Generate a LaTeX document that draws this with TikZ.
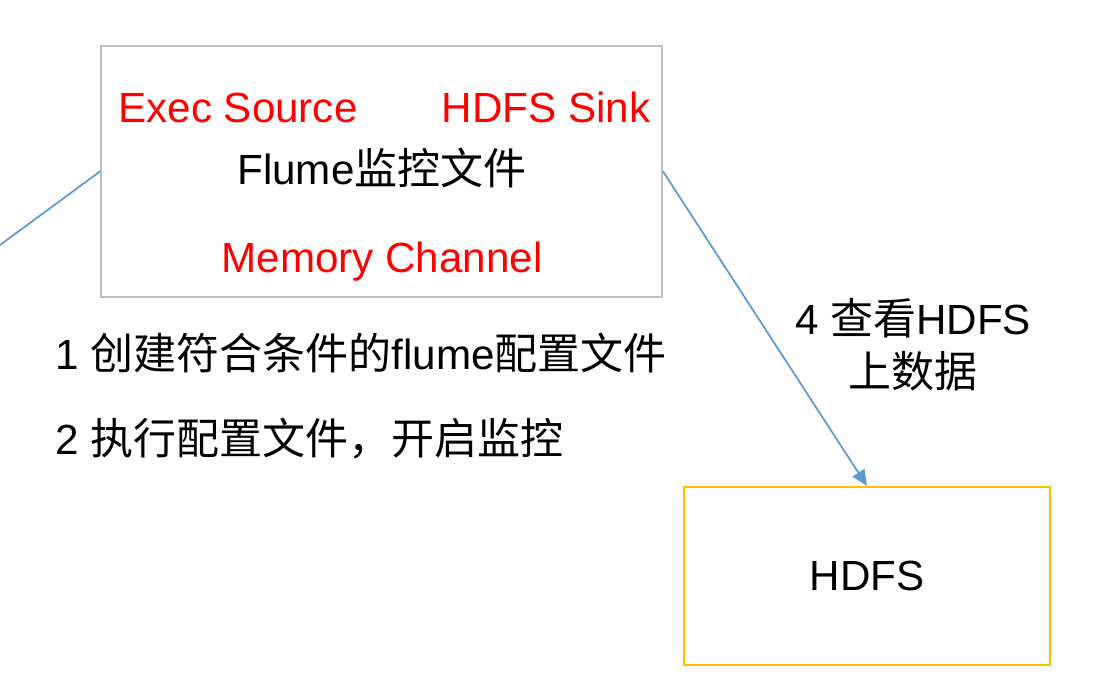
\documentclass[tikz,border=0pt]{standalone}
\usepackage{fontspec}
\setmainfont{Liberation Sans}
\newfontfamily\cjk[Scale=1.02]{Noto Sans CJK SC}
\usepackage{tikz}
\usetikzlibrary{arrows.meta}

\definecolor{boxgray}{HTML}{BFBFBF}
\definecolor{linkblue}{HTML}{5B9BD5}
\definecolor{hdfsyellow}{HTML}{FFC000}

\tikzset{
    txt/.style={font=\fontsize{24}{30}\selectfont, inner sep=0pt},
    redtxt/.style={txt, text=red},
    link/.style={draw=linkblue, line width=1pt}
}

\begin{document}
\begin{tikzpicture}
    \useasboundingbox (0,0) rectangle (22.12,13.84);
    % boxes
    \node[draw=boxgray, line width=1.2pt, minimum width=11.22cm, minimum height=5.02cm] (flume) at (7.63,10.41) {};
    \node[draw=hdfsyellow, line width=1.2pt, minimum width=7.32cm, minimum height=3.56cm, txt] (hdfs) at (17.34,2.32) {HDFS};
    % texts inside the flume box
    \node[redtxt, anchor=base] (src) at (4.76,11.38) {Exec Source};
    \node[redtxt, anchor=base] (sink) at (10.92,11.38) {HDFS Sink};
    \node[txt, anchor=base] (title) at (7.64,10.14) {Flume{\cjk 监控文件}};
    \node[redtxt, anchor=base] (chan) at (7.64,8.38) {Memory Channel};
    % steps
    \node[txt, anchor=base west] (step1) at (1.1,6.44) {1 {\cjk 创建符合条件的}flume{\cjk 配置文件}};
    \node[txt, anchor=base west] (step2) at (1.1,4.74) {2 {\cjk 执行配置文件，开启监控}};
    \node[txt, align=center] (step4) at (18.26,6.94) {4 {\cjk 查看}HDFS\\{\cjk 上数据}};
    % connectors
    \coordinate (incoming) at (0,8.94);
    \draw[link] (incoming) -- (flume.west);
    \draw[link, -{Triangle[length=9pt, width=8pt]}] (flume.east) -- (hdfs.north);
\end{tikzpicture}
\end{document}
